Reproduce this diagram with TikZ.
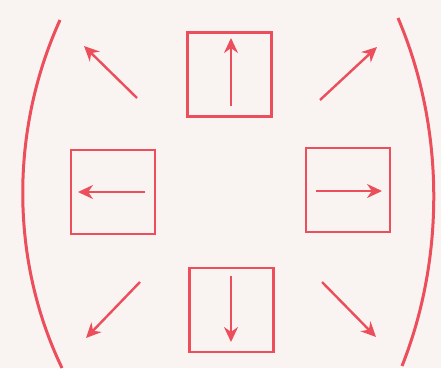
\documentclass[tikz,border=0pt]{standalone}
\usetikzlibrary{arrows.meta}
\definecolor{ink}{RGB}{236,78,92}
\definecolor{paper}{RGB}{249,244,241}
\begin{document}
\begin{tikzpicture}[x=1pt,y=-1pt,
  dirbox/.style={draw=ink,line width=2.1pt,minimum width=84pt,minimum height=84pt,inner sep=0pt},
  arr/.style={draw=ink,line width=2.4pt,-{Stealth[length=15pt,width=14pt]}},
  paren/.style={draw=ink,line width=3pt}]
\fill[paper] (0,0) rectangle (441,368);
\useasboundingbox (0,0) rectangle (441,368);
% boxes
\node[dirbox] (up) at (229.5,74.5) {};
\node[dirbox] (lf) at (113,192) {};
\node[dirbox] (rt) at (348,190) {};
\node[dirbox] (dn) at (231.5,310) {};
% arrow ends
\coordinate (u1) at (231,106); \coordinate (u2) at (231,38);
\coordinate (l1) at (145,192); \coordinate (l2) at (78,192);
\coordinate (r1) at (316,191); \coordinate (r2) at (382,191);
\coordinate (d1) at (231,276); \coordinate (d2) at (231,342);
\coordinate (nw1) at (137,98); \coordinate (nw2) at (84,46);
\coordinate (ne1) at (320,100); \coordinate (ne2) at (377,47);
\coordinate (sw1) at (140,282); \coordinate (sw2) at (86,338);
\coordinate (se1) at (322,282); \coordinate (se2) at (376,337);
\draw[arr] (u1) -- (u2);
\draw[arr] (l1) -- (l2);
\draw[arr] (r1) -- (r2);
\draw[arr] (d1) -- (d2);
\draw[arr] (nw1) -- (nw2);
\draw[arr] (ne1) -- (ne2);
\draw[arr] (sw1) -- (sw2);
\draw[arr] (se1) -- (se2);
% parentheses
\coordinate (pl1) at (60,20); \coordinate (pl2) at (62,368);
\coordinate (pr1) at (398,18); \coordinate (pr2) at (402,366);
\draw[paren] (pl1) .. controls (10,130) and (10,260) .. (pl2);
\draw[paren] (pr1) .. controls (445,128) and (445,258) .. (pr2);
\end{tikzpicture}
\end{document}
